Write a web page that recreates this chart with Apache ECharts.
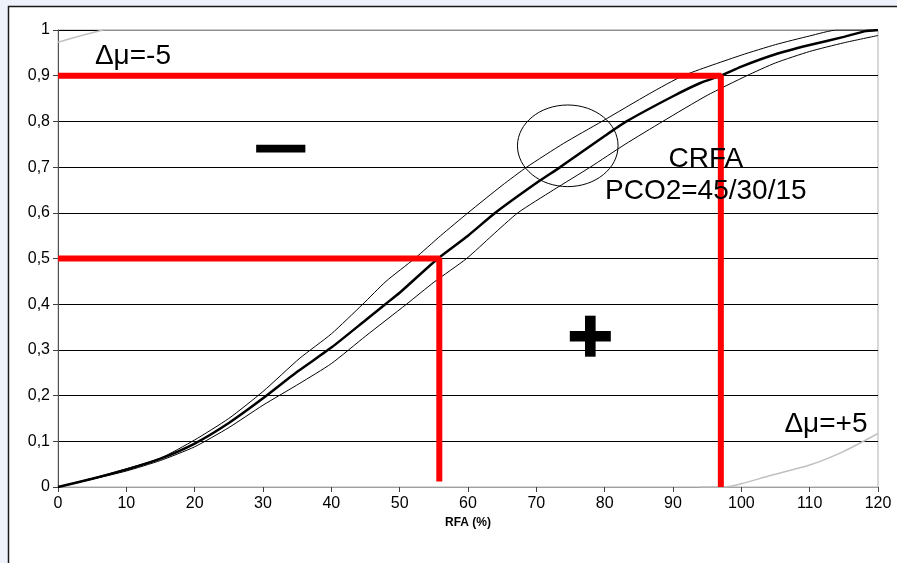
<!DOCTYPE html>
<html><head><meta charset="utf-8">
<script src="https://cdn.jsdelivr.net/npm/echarts@6/dist/echarts.min.js"></script>
<style>html,body{margin:0;padding:0;background:#eef3fb}#c{width:897px;height:563px}</style>
</head><body><div id="c"></div>
<script>
// ---- data ----
const xTicks = [0,10,20,30,40,50,60,70,80,90,100,110,120];
const yTicks = [0,0.1,0.2,0.3,0.4,0.5,0.6,0.7,0.8,0.9,1];
const midCurve = [[0,0],[5,0.018],[10,0.038],[15,0.062],[20,0.095],[25,0.14],[30,0.194],[35,0.252],[40,0.305],[45,0.365],[47.9,0.4],[50,0.425],[55.6,0.5],[60,0.55],[64,0.6],[70,0.665],[73.5,0.7],[80,0.768],[83.2,0.8],[90,0.855],[94,0.884],[97,0.9],[100,0.92],[105,0.947],[110,0.967],[115,0.985],[118,0.997],[120,1]];
const upperCurve = [[0,0],[5,0.019],[10,0.04],[15,0.063],[20,0.103],[25,0.15],[30,0.209],[35.4,0.282],[40,0.335],[44.6,0.4],[48,0.45],[52.2,0.5],[56,0.55],[60,0.6],[65,0.66],[68.6,0.7],[74,0.752],[79.6,0.8],[86.6,0.861],[91.5,0.9],[100,0.945],[105,0.968],[110,0.987],[114,1],[120,1]];
const lowerCurve = [[0,0],[5,0.017],[10,0.035],[15,0.058],[20,0.088],[25,0.13],[30,0.179],[35.4,0.227],[40,0.27],[45,0.33],[51,0.4],[55,0.448],[59.8,0.5],[63.5,0.55],[67.3,0.6],[72.5,0.65],[77.9,0.7],[83,0.75],[88.5,0.8],[95,0.857],[100.8,0.9],[105,0.928],[110,0.953],[115,0.972],[120,0.988]];
const grayTop = [[0,0.973],[2,0.982],[4,0.99],[6.6,1],[120,1]];
const grayBottom = [[94,0],[97.5,0],[100,0.007],[104,0.024],[110,0.048],[115,0.078],[120,0.117]];
const redHigh = [[0,0.9],[97,0.9],[97,0]];
const redLow = [[0,0.5],[55.8,0.5],[55.8,0.012]];
const ellipseCenter = [74.6,0.7466];
const ellipseRadius = [7.36,0.0893];
const minusBar = [[29.0,0.749],[36.2,0.732]];
const plusCenter = [77.9,0.330];
const labelMinus = {text:'Δμ=-5', at:[5.4,0.943]};
const labelPlus = {text:'Δμ=+5', at:[106.3,0.138]};
const labelCrfa = {text:'CRFA\nPCO2=45/30/15', at:[94.8,0.683]};
const xName = 'RFA (%)';

const chart = echarts.init(document.getElementById('c'), null, {renderer:'canvas'});
const font = '"Liberation Sans", Arial, sans-serif';
function fmtY(v){ return (Math.round(v*10)/10).toString().replace('.', ','); }
const lineS = (data, color, width, z, sm) => ({type:'line', data, symbol:'none', smooth: sm, lineStyle:{color, width}, z: z||2, silent:true, animation:false});

chart.setOption({
  backgroundColor:'transparent',
  animation:false,
  grid:{left:58, right:19, top:30, bottom:76, show:true, backgroundColor:'#ffffff', borderColor:'#b0b0b0', borderWidth:1},
  xAxis:{type:'value', min:0, max:120, interval:10,
    name:xName, nameLocation:'middle', nameGap:24,
    nameTextStyle:{fontFamily:font, fontWeight:'bold', fontSize:12, color:'#000'},
    axisLine:{show:true, onZero:false, lineStyle:{color:'#a0a0a0', width:1}},
    axisTick:{show:true, length:5, lineStyle:{color:'#404040'}},
    axisLabel:{fontFamily:font, fontSize:16, color:'#000', margin:9},
    splitLine:{show:false}},
  yAxis:{type:'value', min:0, max:1, interval:0.1,
    axisLine:{show:true, lineStyle:{color:'#505050', width:1}},
    axisTick:{show:true, length:5, lineStyle:{color:'#404040'}},
    axisLabel:{fontFamily:font, fontSize:16, color:'#000', margin:8, formatter:fmtY},
    splitLine:{show:true, lineStyle:{color:'#000', width:1}}},
  series:[
    lineS(grayTop, '#c0c0c0', 1.5, 2, false),
    lineS(grayBottom, '#c0c0c0', 1.5, 2, 0.2),
    lineS(upperCurve, '#000', 1, 3, 0.2),
    lineS(lowerCurve, '#000', 1, 3, 0.2),
    lineS(midCurve, '#000', 2.5, 3, 0.2),
    lineS(redHigh, '#ff0000', 6, 4, false),
    lineS(redLow, '#ff0000', 6, 4, false)
  ]
});

function px(p){ return chart.convertToPixel({gridIndex:0}, p); }
const c0 = px(ellipseCenter);
const cr = px([ellipseCenter[0]+ellipseRadius[0], ellipseCenter[1]+ellipseRadius[1]]);
const m0 = px(minusBar[0]), m1 = px(minusBar[1]);
const pc = px(plusCenter);
const unitX = px([1,0])[0]-px([0,0])[0];
const armLen = 6.0*unitX, armW = 1.55*unitX;
const tMinus = px(labelMinus.at), tPlus = px(labelPlus.at), tCrfa = px(labelCrfa.at);
const txt = (t, p, align, size) => ({type:'text', z:100, x:p[0], y:p[1], style:{text:t, fill:'#000', font: size+'px '+font, align, verticalAlign:'middle', lineHeight:32}});

chart.setOption({graphic:[
  {type:'rect', z:-10, silent:true, shape:{x:8.5, y:6.5, width:900, height:600}, style:{fill:'#ffffff', stroke:'#1a1a1a', lineWidth:1.5}},
  {type:'ellipse', z:100, shape:{cx:c0[0], cy:c0[1], rx:cr[0]-c0[0], ry:c0[1]-cr[1]}, style:{fill:'none', stroke:'#000', lineWidth:1}},
  {type:'rect', z:100, shape:{x:m0[0], y:m0[1], width:m1[0]-m0[0], height:m1[1]-m0[1]}, style:{fill:'#000'}},
  {type:'rect', z:100, shape:{x:pc[0]-armLen/2, y:pc[1]-armW/2, width:armLen, height:armW}, style:{fill:'#000'}},
  {type:'rect', z:100, shape:{x:pc[0]-armW/2, y:pc[1]-armLen/2, width:armW, height:armLen}, style:{fill:'#000'}},
  txt(labelMinus.text, tMinus, 'left', 28),
  txt(labelPlus.text, tPlus, 'left', 28),
  txt(labelCrfa.text, tCrfa, 'center', 28)
]});
</script></body></html>
